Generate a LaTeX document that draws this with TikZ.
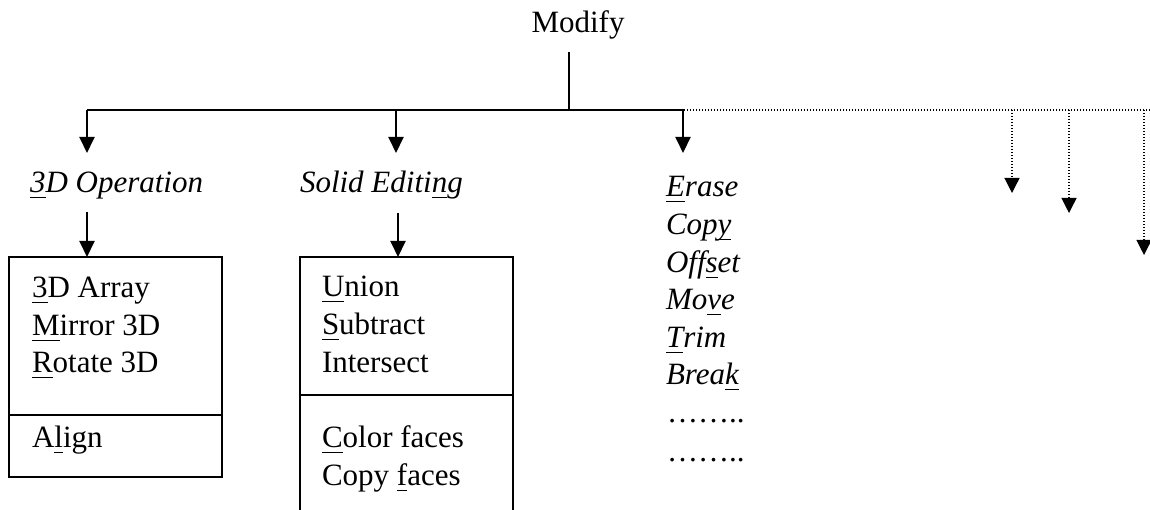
\documentclass[tikz,border=0pt]{standalone}
\usepackage{fontspec}
\setmainfont{Liberation Serif}
\usetikzlibrary{arrows.meta,fit}
% hot-key letter: underlined at a fixed depth below the baseline
\newcommand\hk[1]{\setbox0\hbox{#1}\rlap{\rule[-2pt]{\wd0}{0.5pt}}\box0}
\begin{document}
\begin{tikzpicture}[x=0.4pt,y=-0.4pt,
  every node/.style={inner sep=0pt,outer sep=0pt,font=\fontsize{12.4}{15}\selectfont},
  lbl/.style={anchor=base west},
  hdr/.style={anchor=base west,font=\fontsize{12.4}{15}\selectfont\itshape},
  link/.style={line width=0.8pt},
  arr/.style={line width=0.8pt,-{Triangle[width=6pt,length=6.4pt]}},
  dotlink/.style={line width=0.5pt,dash pattern=on 0.5pt off 0.7pt},
  dotarr/.style={dotlink,-{Triangle[width=6pt,length=6pt]}},
  panel/.style={draw,line width=0.8pt,inner sep=0pt}]

\useasboundingbox (0,0) rectangle (1150,510);

% root and distribution bus
\node[anchor=base] (modify) at (578,33) {Modify};
\coordinate (stem) at (569,52);
\coordinate (busL) at (87,110);
\coordinate (busS) at (396,110);
\coordinate (busE) at (683,110);
\coordinate (busM) at (684,110);
\coordinate (busR) at (1150,110);
\coordinate (busX1) at (1012,110);
\coordinate (busX2) at (1069,110);
\coordinate (busX3) at (1144,110);
\draw[link] (stem) -- (stem |- busL);
\draw[link] (busL) -- (busM);
\draw[dotlink] (busM) -- (busR);

% first-level entries
\node[hdr] (op) at (30,193) {\hk{3}D Operation};
\node[hdr] (se) at (300,193) {Solid Editi\hk{n}g};
\node[hdr] (er) at (666,197) {\hk{E}rase};
\node[hdr] (cp) at (666,235) {Cop\hk{y}};
\node[hdr] (of) at (666,273) {Off\hk{s}et};
\node[hdr] (mv) at (666,310) {Mo\hk{v}e};
\node[hdr] (tr) at (666,348) {\hk{T}rim};
\node[hdr] (bk) at (666,385) {Brea\hk{k}};
\node[lbl] (more1) at (667,423) {……..};
\node[lbl] (more2) at (667,462) {……..};

% arrow ends of the bus
\coordinate (opIn) at (87,153);
\coordinate (seIn) at (396,153);
\coordinate (erIn) at (683,153);
\coordinate (x1In) at (1012,193);
\coordinate (x2In) at (1069,213);
\coordinate (x3In) at (1144,255);
\draw[arr] (busL) -- (opIn);
\draw[arr] (busS) -- (seIn);
\draw[arr] (busE) -- (erIn);
\draw[dotarr] (busX1) -- (x1In);
\draw[dotarr] (busX2) -- (x2In);
\draw[dotarr] (busX3) -- (x3In);

% sub-menu panels
\node[panel,fit={(9,257) (222,415)}] (opTop) {};
\node[panel,fit={(9,415) (222,477)}] (opBot) {};
\node[panel,fit={(300,257) (513,395)}] (seTop) {};
\node[fit={(300,395) (513,515)}] (seBot) {};
\draw[link] (seBot.north west) -- (seBot.south west);
\draw[link] (seBot.north east) -- (seBot.south east);

\coordinate (opOut) at (87,212);
\coordinate (seOut) at (398,213);
\draw[arr] (opOut) -- (opTop.north -| opOut);
\draw[arr] (seOut) -- (seTop.north -| seOut);

% 3D Operation items
\node[lbl] (a1) at (32,298) {\hk{3}D Array};
\node[lbl] (a2) at (32,336) {\hk{M}irror 3D};
\node[lbl] (a3) at (32,373) {\hk{R}otate 3D};
\node[lbl] (a4) at (32,448) {A\hk{l}ign};

% Solid Editing items
\node[lbl] (b1) at (322,297) {\hk{U}nion};
\node[lbl] (b2) at (322,335) {\hk{S}ubtract};
\node[lbl] (b3) at (322,373) {Intersect};
\node[lbl] (b4) at (322,448) {\hk{C}olor faces};
\node[lbl] (b5) at (322,486) {Copy \hk{f}aces};
\end{tikzpicture}
\end{document}
